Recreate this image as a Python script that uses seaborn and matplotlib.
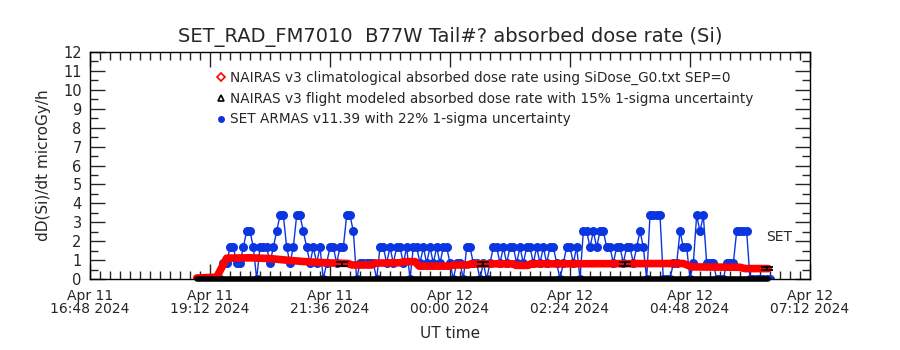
import numpy as np
import pandas as pd
import matplotlib
matplotlib.use("Agg")
import matplotlib.pyplot as plt
import matplotlib.dates as mdates
from matplotlib.lines import Line2D
import seaborn as sns

# ---------------- data ----------------
title = "SET_RAD_FM7010  B77W Tail#? absorbed dose rate (Si)"
ylabel = "dD(Si)/dt microGy/h"
xlabel = "UT time"

legend_labels = [
    "NAIRAS v3 climatological absorbed dose rate using SiDose_G0.txt SEP=0",
    "NAIRAS v3 flight modeled absorbed dose rate with 15% 1-sigma uncertainty",
    "SET ARMAS v11.39 with 22% 1-sigma uncertainty",
]

x_tick_times = ["2024-04-11 16:48", "2024-04-11 19:12", "2024-04-11 21:36",
                "2024-04-12 00:00", "2024-04-12 02:24", "2024-04-12 04:48",
                "2024-04-12 07:12"]
x_tick_labels = ["Apr 11\n16:48 2024", "Apr 11\n19:12 2024", "Apr 11\n21:36 2024",
                 "Apr 12\n00:00 2024", "Apr 12\n02:24 2024", "Apr 12\n04:48 2024",
                 "Apr 12\n07:12 2024"]

# SET ARMAS measured dose rate, one sample every 4 minutes from 18:56 UT
armas_start = "2024-04-11 18:56"
armas_step_min = 4
armas_dose = [
    0, 0, 0, 0, 0, 0, 0, 0, 0.84, 0.84,
    1.68, 1.68, 0.84, 0.84, 1.68, 2.52, 2.52, 1.68, 0, 1.68,
    1.68, 1.68, 0.84, 1.68, 2.52, 3.36, 3.36, 1.68, 0.84, 1.68,
    3.36, 3.36, 2.52, 1.68, 0.84, 1.68, 0.84, 1.68, 0, 0.84,
    1.68, 1.68, 0.84, 1.68, 1.68, 3.36, 3.36, 2.52, 0, 0.84,
    0.84, 0.84, 0.84, 0.84, 0, 1.68, 1.68, 0.84, 1.68, 0.84,
    1.68, 1.68, 0.84, 1.68, 0, 1.68, 1.68, 0.84, 1.68, 0.84,
    1.68, 0.84, 1.68, 0.84, 1.68, 1.68, 0.84, 0, 0.84, 0.84,
    0, 1.68, 1.68, 0.84, 0.84, 0, 0.84, 0, 0.84, 1.68,
    1.68, 0.84, 1.68, 0.84, 1.68, 1.68, 0.84, 1.68, 0.84, 1.68,
    1.68, 0.84, 1.68, 0.84, 1.68, 0.84, 1.68, 1.68, 0.84, 0,
    0.84, 1.68, 1.68, 0.84, 1.68, 0, 2.52, 2.52, 1.68, 2.52,
    1.68, 2.52, 2.52, 1.68, 1.68, 0.84, 1.68, 1.68, 0.84, 1.68,
    1.68, 0.84, 1.68, 2.52, 1.68, 0, 3.36, 3.36, 3.36, 3.36,
    0, 0, 0, 0.84, 0.84, 2.52, 1.68, 1.68, 0, 0.84,
    3.36, 2.52, 3.36, 0.84, 0.84, 0.84, 0, 0, 0, 0.84,
    0.84, 0.84, 2.52, 2.52, 2.52, 2.52, 0, 0, 0, 0,
    0, 0, 0,
]

# NAIRAS climatological dose rate
clim_times = ["2024-04-11 18:56", "2024-04-11 19:20", "2024-04-11 19:26",
              "2024-04-11 19:32", "2024-04-11 20:00", "2024-04-11 20:24",
              "2024-04-11 20:48", "2024-04-11 21:12", "2024-04-11 21:36",
              "2024-04-11 21:58", "2024-04-11 22:02", "2024-04-11 22:26",
              "2024-04-11 22:30", "2024-04-11 23:00", "2024-04-11 23:06",
              "2024-04-11 23:18", "2024-04-11 23:23", "2024-04-12 00:00",
              "2024-04-12 00:04", "2024-04-12 00:22", "2024-04-12 00:25",
              "2024-04-12 01:16", "2024-04-12 01:19", "2024-04-12 01:34",
              "2024-04-12 01:37", "2024-04-12 04:40", "2024-04-12 04:50",
              "2024-04-12 05:48", "2024-04-12 05:54", "2024-04-12 06:22"]
clim_dose = [0.05, 0.1, 0.6, 1.1, 1.12, 1.08, 0.98, 0.9, 0.85, 0.82,
             0.74, 0.74, 0.84, 0.86, 0.92, 0.92, 0.68, 0.68, 0.74, 0.74,
             0.8, 0.8, 0.72, 0.72, 0.8, 0.82, 0.64, 0.62, 0.55, 0.55]

# NAIRAS flight modeled points (15% 1-sigma)
flight_times = ["2024-04-11 21:50", "2024-04-12 00:40", "2024-04-12 03:30",
                "2024-04-12 06:20"]
flight_dose = [0.8, 0.8, 0.8, 0.55]
flight_err = [0.12, 0.12, 0.12, 0.08]

# flight baseline
base_times = ["2024-04-11 18:56", "2024-04-12 06:22"]
base_dose = [0.0, 0.0]

set_label_time = "2024-04-12 06:19"
set_label_value = 2.2

# ---------------- build frames ----------------
armas = pd.DataFrame({
    "time": pd.date_range(armas_start, periods=len(armas_dose),
                          freq=f"{armas_step_min}min"),
    "dose": armas_dose,
})
clim = pd.DataFrame({"time": pd.to_datetime(clim_times), "dose": clim_dose})
flight = pd.DataFrame({"time": pd.to_datetime(flight_times), "dose": flight_dose,
                       "err": flight_err})
base = pd.DataFrame({"time": pd.to_datetime(base_times), "dose": base_dose})

# ---------------- plot ----------------
sns.set_style("ticks")
plt.rcParams["font.family"] = ["DejaVu Sans"]

fig = plt.figure(figsize=(9, 3.5), dpi=100)
ax = fig.add_axes([90 / 900, 71 / 350, 720 / 900, 227 / 350])

blue = "#0a35e0"
sns.lineplot(data=armas, x="time", y="dose", ax=ax, color=blue, lw=1.0,
             marker="o", markersize=6.5, markeredgewidth=0,
             markerfacecolor=blue, zorder=2, legend=False)
sns.lineplot(data=clim, x="time", y="dose", ax=ax, color="#ff0000", lw=5.5,
             zorder=3, legend=False)
sns.lineplot(data=base, x="time", y="dose", ax=ax, color="black", lw=4,
             zorder=4, legend=False, clip_on=False)
ax.errorbar(flight["time"], flight["dose"], yerr=flight["err"], fmt="none",
            ecolor="black", elinewidth=1.3, capsize=4, capthick=1.3, zorder=5)

ax.text(pd.Timestamp(set_label_time), set_label_value, "SET", fontsize=10,
        ha="left", va="center")

# axes limits & ticks
ax.set_xlim(pd.Timestamp(x_tick_times[0]), pd.Timestamp(x_tick_times[-1]))
ax.set_ylim(0, 12)
ax.set_xticks(pd.to_datetime(x_tick_times))
ax.set_xticklabels(x_tick_labels, fontsize=10, linespacing=0.95)
ax.xaxis.set_minor_locator(mdates.MinuteLocator(byminute=[0, 12, 24, 36, 48]))
ax.set_yticks(range(0, 13))
ax.set_yticklabels([str(v) for v in range(0, 13)], fontsize=10.5)
ax.yaxis.set_minor_locator(matplotlib.ticker.MultipleLocator(0.5))
ax.tick_params(which="major", direction="in", length=11, width=1,
               top=True, right=True, pad=6)
ax.tick_params(which="minor", direction="in", length=5.5, width=1,
               top=True, right=True)
ax.tick_params(axis="x", which="major", pad=7)
for s in ax.spines.values():
    s.set_linewidth(1)
    s.set_color("black")
    s.set_visible(True)

ax.set_xlabel(xlabel, fontsize=11, labelpad=7)
ax.set_ylabel(ylabel, fontsize=11, labelpad=9)
ax.set_title(title, fontsize=14, pad=7)

handles = [
    Line2D([], [], ls="none", marker="D", markersize=4, markerfacecolor="white",
           markeredgecolor="#ff0000", markeredgewidth=1.2),
    Line2D([], [], ls="none", marker="^", markersize=4.5, markerfacecolor="white",
           markeredgecolor="black", markeredgewidth=1.2),
    Line2D([], [], ls="none", marker="o", markersize=5, markerfacecolor=blue,
           markeredgewidth=0),
]
ax.legend(handles, legend_labels, loc="upper left",
          bbox_to_anchor=(0.176, 0.918), frameon=False, borderaxespad=0,
          borderpad=0, handlelength=0.7, handletextpad=0.25,
          labelspacing=0.5, fontsize=9.8)

fig.savefig("out.png", dpi=100, facecolor="white")
